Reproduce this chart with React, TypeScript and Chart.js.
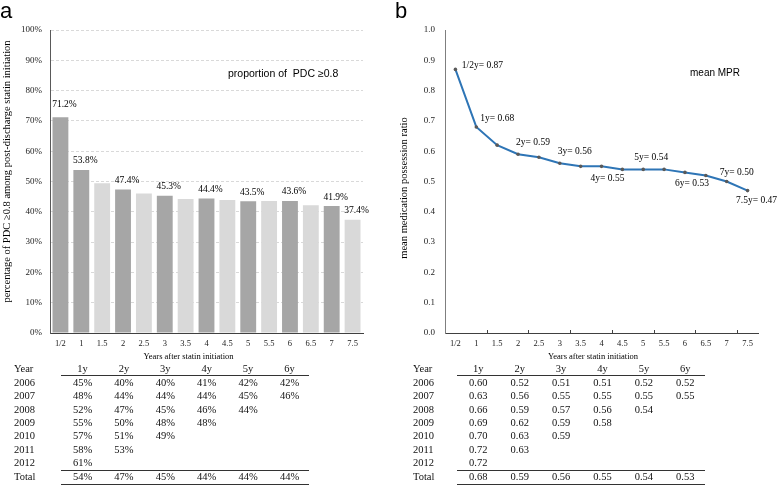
import React, { useEffect, useRef } from "react";
import { Chart, registerables } from "chart.js";

Chart.register(...registerables);

// ---------- data ----------
const yearsAfter = ["1/2", "1", "1.5", "2", "2.5", "3", "3.5", "4", "4.5", "5", "5.5", "6", "6.5", "7", "7.5"];
const pdcValues = [71.2, 53.8, 49.4, 47.4, 46.0, 45.3, 44.2, 44.4, 43.9, 43.5, 43.6, 43.6, 42.2, 41.9, 37.4];
const pdcLabels = ["71.2%", "53.8%", "", "47.4%", "", "45.3%", "", "44.4%", "", "43.5%", "", "43.6%", "", "41.9%", "37.4%"];
const pdcYTicks = [0, 10, 20, 30, 40, 50, 60, 70, 80, 90, 100];

const mprValues = [0.87, 0.68, 0.62, 0.59, 0.58, 0.56, 0.55, 0.55, 0.54, 0.54, 0.54, 0.53, 0.52, 0.5, 0.47];
const mprLabels = ["1/2y= 0.87", "1y= 0.68", "", "2y= 0.59", "", "3y= 0.56", "", "4y= 0.55", "", "5y= 0.54", "", "6y= 0.53", "", "7y= 0.50", "7.5y= 0.47"];

const tableCols = ["1y", "2y", "3y", "4y", "5y", "6y"];
const tableYears = ["2006", "2007", "2008", "2009", "2010", "2011", "2012"];
const pdcTable = [
  [45, 40, 40, 41, 42, 42],
  [48, 44, 44, 44, 45, 46],
  [52, 47, 45, 46, 44],
  [55, 50, 48, 48],
  [57, 51, 49],
  [58, 53],
  [61],
];
const pdcTotal = [54, 47, 45, 44, 44, 44];
const mprTable = [
  [0.6, 0.52, 0.51, 0.51, 0.52, 0.52],
  [0.63, 0.56, 0.55, 0.55, 0.55, 0.55],
  [0.66, 0.59, 0.57, 0.56, 0.54],
  [0.69, 0.62, 0.59, 0.58],
  [0.7, 0.63, 0.59],
  [0.72, 0.63],
  [0.72],
];
const mprTotal = [0.68, 0.59, 0.56, 0.55, 0.54, 0.53];

// ---------- styles ----------
const SERIF = '"Liberation Serif", "Times New Roman", serif';
const SANS = '"Liberation Sans", Arial, sans-serif';
const DARK_BAR = "#a6a6a6";
const LIGHT_BAR = "#d9d9d9";
const LINE_BLUE = "#2e75b6";
const mprLabelDx = [27, 21, 0, 15, 0, 15, 0, 6, 0, 8, 0, 7, 0, 10, 9];
const mprLabelDy = [-4, -8, 0, -12, 0, -12, 0, 12, 0, -12, 0, 11, 0, -9, 10];

function drawText(
  ctx: CanvasRenderingContext2D,
  text: string,
  x: number,
  y: number,
  font: string,
  align: CanvasTextAlign = "center",
  baseline: CanvasTextBaseline = "middle",
  rotate = 0,
  color = "#000"
) {
  ctx.save();
  ctx.font = font;
  ctx.fillStyle = color;
  ctx.textAlign = align;
  ctx.textBaseline = baseline;
  ctx.translate(x, y);
  if (rotate) ctx.rotate(rotate);
  ctx.fillText(text, 0, 0);
  ctx.restore();
}

function LeftChart() {
  const ref = useRef<HTMLCanvasElement>(null);
  useEffect(() => {
    const canvas = ref.current!;
    const colors = yearsAfter.map((_, i) => (i === 0 || (i % 2 === 1 && i < 14) ? DARK_BAR : LIGHT_BAR));
    const overlay = {
      id: "leftOverlay",
      afterDraw(chart: any) {
        const ctx = chart.ctx as CanvasRenderingContext2D;
        const ca = chart.chartArea;
        const meta = chart.getDatasetMeta(0);
        pdcLabels.forEach((lab, i) => {
          if (!lab) return;
          const el = meta.data[i];
          drawText(ctx, lab, el.x + 4, el.y + (i === 0 ? -13 : -9), `9.5px ${SERIF}`);
        });
        drawText(ctx, "Years after statin initiation", (ca.left + ca.right) / 2 - 18, 357, `8.5px ${SERIF}`);
        drawText(
          ctx,
          "percentage of PDC \u22650.8 among post-discharge statin initiation",
          7,
          (ca.top + ca.bottom) / 2 - 10,
          `10.5px ${SERIF}`,
          "center",
          "middle",
          -Math.PI / 2
        );
        drawText(ctx, "proportion of  PDC \u22650.8", 228, 74, `10.5px ${SANS}`, "left");
        drawText(ctx, "a", 0, 18, `22px ${SANS}`, "left", "alphabetic");
      },
    };
    const chart = new Chart(canvas, {
      type: "bar",
      data: {
        labels: yearsAfter,
        datasets: [
          {
            data: pdcValues,
            backgroundColor: colors,
            borderWidth: 0,
            barPercentage: 0.76,
            categoryPercentage: 1,
          },
        ],
      },
      options: {
        responsive: false,
        animation: false,
        layout: { padding: { top: 30, right: 22, left: 0, bottom: 0 } },
        plugins: { legend: { display: false }, tooltip: { enabled: false } },
        scales: {
          x: {
            offset: true,
            grid: { display: true, drawOnChartArea: false, drawTicks: false },
            border: { display: true, color: "#404040", width: 1 },
            ticks: { font: { family: SERIF, size: 8.5 }, color: "#222", padding: 6, maxRotation: 0, autoSkip: false },
            afterFit: (s: any) => {
              s.height = 32;
            },
          },
          y: {
            min: 0,
            max: 100,
            afterBuildTicks: (s: any) => {
              s.ticks = pdcYTicks.map((v) => ({ value: v }));
            },
            ticks: { font: { family: SERIF, size: 9 }, color: "#222", padding: 8, callback: (v: any) => v + "%" },
            grid: { color: LIGHT_BAR, drawTicks: false, lineWidth: 1 },
            border: { display: true, color: "#595959", width: 1, dash: [3, 2] },
            afterFit: (s: any) => {
              s.width = 50;
            },
          },
        },
      },
      plugins: [overlay],
    } as any);
    return () => chart.destroy();
  }, []);
  return <canvas ref={ref} width={385} height={365} style={{ position: "absolute", left: 0, top: 0, display: "block" }} />;
}

function RightChart() {
  const ref = useRef<HTMLCanvasElement>(null);
  useEffect(() => {
    const canvas = ref.current!;
    const overlay = {
      id: "rightOverlay",
      afterDraw(chart: any) {
        const ctx = chart.ctx as CanvasRenderingContext2D;
        const ca = chart.chartArea;
        const meta = chart.getDatasetMeta(0);
        mprLabels.forEach((lab, i) => {
          if (!lab) return;
          const el = meta.data[i];
          drawText(ctx, lab, el.x + mprLabelDx[i], el.y + mprLabelDy[i], `9.5px ${SERIF}`);
        });
        // tick marks between categories, every second boundary
        const n = yearsAfter.length;
        const w = (ca.right - ca.left) / n;
        ctx.save();
        ctx.strokeStyle = "#404040";
        ctx.lineWidth = 1;
        for (let k = 2; k < n; k += 2) {
          const x = Math.round(ca.left + k * w) + 0.5;
          ctx.beginPath();
          ctx.moveTo(x, ca.bottom - 3);
          ctx.lineTo(x, ca.bottom);
          ctx.stroke();
        }
        ctx.restore();
        drawText(ctx, "Years after statin initiation", (ca.left + ca.right) / 2 - 8.5, 357, `8.5px ${SERIF}`);
        drawText(
          ctx,
          "mean medication possession ratio",
          14.5,
          (ca.top + ca.bottom) / 2 + 6.5,
          `10.5px ${SERIF}`,
          "center",
          "middle",
          -Math.PI / 2
        );
        drawText(ctx, "mean MPR", 300, 73, `10px ${SANS}`, "left");
        drawText(ctx, "b", 5, 18, `22px ${SANS}`, "left", "alphabetic");
      },
    };
    const chart = new Chart(canvas, {
      type: "line",
      data: {
        labels: yearsAfter,
        datasets: [
          {
            data: mprValues,
            borderColor: LINE_BLUE,
            borderWidth: 2,
            tension: 0,
            pointRadius: 1.8,
            pointBackgroundColor: "#595959",
            pointBorderWidth: 0,
          },
        ],
      },
      options: {
        responsive: false,
        animation: false,
        layout: { padding: { top: 30, right: 19, left: 0, bottom: 0 } },
        plugins: { legend: { display: false }, tooltip: { enabled: false } },
        scales: {
          x: {
            offset: true,
            grid: { display: true, drawOnChartArea: false, drawTicks: false },
            border: { display: true, color: "#404040", width: 1 },
            ticks: { font: { family: SERIF, size: 8.5 }, color: "#222", padding: 6, maxRotation: 0, autoSkip: false },
            afterFit: (s: any) => {
              s.height = 32;
            },
          },
          y: {
            min: 0,
            max: 1,
            ticks: {
              stepSize: 0.1,
              font: { family: SERIF, size: 9 },
              color: "#222",
              padding: 10,
              callback: (v: any) => Number(v).toFixed(1),
            },
            grid: { display: true, drawOnChartArea: false, drawTicks: false },
            border: { display: true, color: "#7f7f7f", width: 1 },
            afterFit: (s: any) => {
              s.width = 55;
            },
          },
        },
      },
      plugins: [overlay],
    } as any);
    return () => chart.destroy();
  }, []);
  return <canvas ref={ref} width={387} height={365} style={{ position: "absolute", left: 390, top: 0, display: "block" }} />;
}

type TableProps = {
  yearX: number;
  col0: number;
  colDx: number;
  lineX1: number;
  lineX2: number;
  rows: number[][];
  total: number[];
  fmt: (v: number) => string;
};

function DataTable({ yearX, col0, colDx, lineX1, lineX2, rows, total, fmt }: TableProps) {
  const font: React.CSSProperties = {
    position: "absolute",
    fontFamily: SERIF,
    fontSize: "10.5px",
    lineHeight: "12px",
    whiteSpace: "nowrap",
    color: "#111",
  };
  const rowY = (i: number) => 382.7 + 13.42 * i;
  const cells: React.ReactNode[] = [];
  const cell = (key: string, text: string, cx: number, cy: number) =>
    cells.push(
      <span key={key} style={{ ...font, left: cx, top: cy - 6, transform: "translateX(-50%)" }}>
        {text}
      </span>
    );
  const label = (key: string, text: string, cy: number) =>
    cells.push(
      <span key={key} style={{ ...font, left: yearX, top: cy - 6 }}>
        {text}
      </span>
    );
  label("hdr", "Year", 369);
  tableCols.forEach((c, j) => cell("h" + j, c, col0 + j * colDx, 369));
  tableYears.forEach((yr, i) => {
    label("y" + i, yr, rowY(i));
    rows[i].forEach((v, j) => cell(`c${i}_${j}`, fmt(v), col0 + j * colDx, rowY(i)));
  });
  label("tot", "Total", 477.3);
  total.forEach((v, j) => cell("t" + j, fmt(v), col0 + j * colDx, 477.3));
  const line = (key: string, y: number) => (
    <div key={key} style={{ position: "absolute", left: lineX1, width: lineX2 - lineX1, top: y, height: 1, background: "#333" }} />
  );
  return (
    <>
      {line("l1", 375.2)}
      {line("l2", 470.2)}
      {line("l3", 483.5)}
      {cells}
    </>
  );
}

export default function App() {
  return (
    <div style={{ position: "absolute", left: 0, top: 0, width: 777, height: 485, background: "#fff", overflow: "hidden" }}>
      <LeftChart />
      <RightChart />
      <DataTable yearX={14} col0={82.5} colDx={41.4} lineX1={61} lineX2={309} rows={pdcTable} total={pdcTotal} fmt={(v) => v + "%"} />
      <DataTable
        yearX={413}
        col0={478.3}
        colDx={41.4}
        lineX1={457}
        lineX2={705}
        rows={mprTable}
        total={mprTotal}
        fmt={(v) => v.toFixed(2)}
      />
    </div>
  );
}
